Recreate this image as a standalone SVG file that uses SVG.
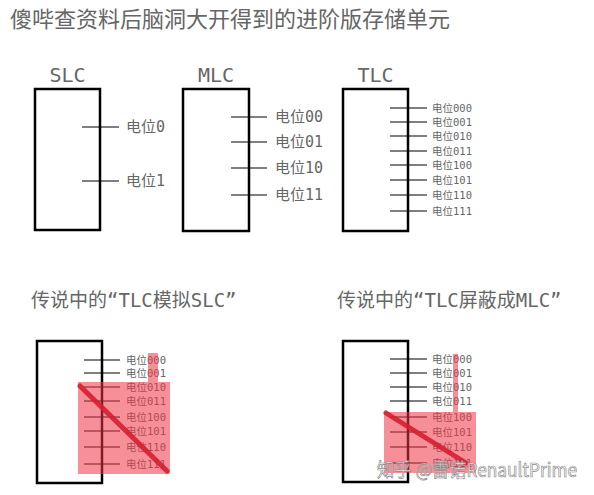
<svg xmlns="http://www.w3.org/2000/svg" width="594" height="495" viewBox="0 0 594 495">
<style>
.t{font-family:"DejaVu Sans Mono","Noto Sans CJK SC",monospace;fill:#666}
.title{font-family:"Noto Sans CJK SC",sans-serif;font-size:22px;fill:#666}
.hd{font-size:20px;text-anchor:middle}
.lb{font-size:15px}
.sm{font-size:10.5px}
.sub{font-size:19px}
.box{fill:none;stroke:#000;stroke-width:2.5}
.tick{stroke:#000;stroke-width:1.2}
.pink{fill:#ee3344;fill-opacity:0.55}
.slash{stroke:#d81e30;stroke-width:5;stroke-linecap:round;opacity:0.9}
</style>
<rect width="594" height="495" fill="#fff"/>
<text class="title" x="10" y="27">傻哔查资料后脑洞大开得到的进阶版存储单元</text>

<g id="connectors">
<line class="tick" x1="82" y1="127" x2="119" y2="127"/>
<line class="tick" x1="82" y1="181" x2="119" y2="181"/>
<line class="tick" x1="231" y1="117" x2="267" y2="117"/>
<line class="tick" x1="231" y1="142" x2="267" y2="142"/>
<line class="tick" x1="231" y1="168" x2="267" y2="168"/>
<line class="tick" x1="231" y1="195" x2="267" y2="195"/>
<line class="tick" x1="390" y1="108" x2="427" y2="108"/>
<line class="tick" x1="390" y1="122" x2="427" y2="122"/>
<line class="tick" x1="390" y1="136" x2="427" y2="136"/>
<line class="tick" x1="390" y1="151" x2="427" y2="151"/>
<line class="tick" x1="390" y1="165" x2="427" y2="165"/>
<line class="tick" x1="390" y1="180" x2="427" y2="180"/>
<line class="tick" x1="390" y1="195" x2="427" y2="195"/>
<line class="tick" x1="390" y1="211" x2="427" y2="211"/>
<line class="tick" x1="84" y1="360" x2="120" y2="360"/>
<line class="tick" x1="84" y1="373" x2="120" y2="373"/>
<line class="tick" x1="84" y1="387" x2="120" y2="387"/>
<line class="tick" x1="84" y1="401" x2="120" y2="401"/>
<line class="tick" x1="84" y1="417" x2="120" y2="417"/>
<line class="tick" x1="84" y1="431" x2="120" y2="431"/>
<line class="tick" x1="84" y1="447" x2="120" y2="447"/>
<line class="tick" x1="84" y1="464" x2="120" y2="464"/>
<line class="tick" x1="390" y1="359" x2="427" y2="359"/>
<line class="tick" x1="390" y1="373" x2="427" y2="373"/>
<line class="tick" x1="390" y1="387" x2="427" y2="387"/>
<line class="tick" x1="390" y1="401" x2="427" y2="401"/>
<line class="tick" x1="390" y1="417" x2="427" y2="417"/>
<line class="tick" x1="390" y1="432" x2="427" y2="432"/>
<line class="tick" x1="390" y1="447" x2="427" y2="447"/>
<line class="tick" x1="390" y1="463" x2="427" y2="463"/>
</g>

<g id="slc">
<text class="t hd" x="67.5" y="82">SLC</text>
<rect class="box" x="35" y="89" width="65" height="141"/>
<text class="t lb" x="126" y="132">电位0</text>
<text class="t lb" x="126" y="186">电位1</text>
</g>

<g id="mlc">
<text class="t hd" x="216" y="82">MLC</text>
<rect class="box" x="183" y="89" width="66" height="142"/>
<text class="t lb" x="275" y="122">电位00</text>
<text class="t lb" x="275" y="147">电位01</text>
<text class="t lb" x="275" y="173">电位10</text>
<text class="t lb" x="275" y="200">电位11</text>
</g>

<g id="tlc">
<text class="t hd" x="375.5" y="82">TLC</text>
<rect class="box" x="343" y="89" width="65" height="142"/>
<text class="t sm" x="432" y="112">电位000</text>
<text class="t sm" x="432" y="126">电位001</text>
<text class="t sm" x="432" y="140">电位010</text>
<text class="t sm" x="432" y="155">电位011</text>
<text class="t sm" x="432" y="169">电位100</text>
<text class="t sm" x="432" y="184">电位101</text>
<text class="t sm" x="432" y="199">电位110</text>
<text class="t sm" x="432" y="215">电位111</text>
</g>

<g id="tlc-as-slc">
<text class="t sub" x="31" y="307">传说中的“TLC模拟SLC”</text>
<rect class="box" x="37" y="341" width="65" height="142"/>
<text class="t sm" x="126" y="364">电位000</text>
<text class="t sm" x="126" y="377">电位001</text>
<text class="t sm" x="126" y="391">电位010</text>
<text class="t sm" x="126" y="405">电位011</text>
<text class="t sm" x="126" y="421">电位100</text>
<text class="t sm" x="126" y="435">电位101</text>
<text class="t sm" x="126" y="451">电位110</text>
<text class="t sm" x="126" y="468">电位111</text>
<path class="pink" d="M148,353 H158 V382 H170 V474 H78 V382 H148 Z"/>
<line class="slash" x1="80" y1="386" x2="167" y2="471"/>
</g>

<g id="tlc-as-mlc">
<text class="t sub" x="337" y="307">传说中的“TLC屏蔽成MLC”</text>
<rect class="box" x="343" y="341" width="65" height="141"/>
<text class="t sm" x="432" y="363">电位000</text>
<text class="t sm" x="432" y="377">电位001</text>
<text class="t sm" x="432" y="391">电位010</text>
<text class="t sm" x="432" y="405">电位011</text>
<text class="t sm" x="432" y="421">电位100</text>
<text class="t sm" x="432" y="436">电位101</text>
<text class="t sm" x="432" y="451">电位110</text>
<text class="t sm" x="432" y="467">电位111</text>
<path class="pink" d="M453,354 H458 V412 H476 V473 H384 V412 H453 Z"/>
<line class="slash" x1="386" y1="413" x2="466" y2="463"/>
</g>

<text x="377" y="477" textLength="200" lengthAdjust="spacingAndGlyphs" style="font-family:'Noto Sans CJK SC',sans-serif;font-size:19px;fill:#fff;fill-opacity:0.75;stroke:#8a8a8a;stroke-width:0.7">知乎 @雷诺RenaultPrime</text>
</svg>
